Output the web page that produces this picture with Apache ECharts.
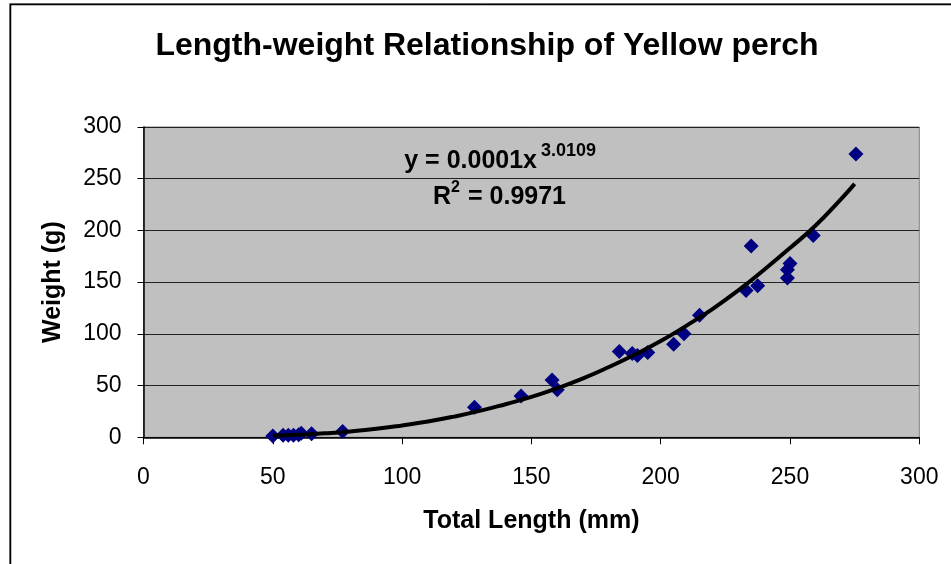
<!DOCTYPE html>
<html>
<head>
<meta charset="utf-8">
<script src="https://cdn.jsdelivr.net/npm/echarts@6/dist/echarts.min.js"></script>
<style>
html,body{margin:0;padding:0;background:#fff;}
#chart{width:951px;height:564px;}
</style>
</head>
<body>
<div id="chart"></div>
<script>
// Observed data: total length (mm) and weight (g)
var lengths = [50, 54, 56, 58, 60, 61, 65, 77, 128, 146, 158, 160, 184, 189, 191, 195, 205, 209, 215, 233, 235, 237.5, 249, 249, 250, 259, 275.5];
var weights = [1.3, 2, 2, 2, 2.5, 4, 3.5, 5.5, 29, 40, 55.5, 46, 83, 81, 79, 82, 90, 100, 118, 142, 185, 146.5, 154, 162, 168, 195, 274];

// Power trendline
var trendLengths = [50, 60, 70, 80, 90, 100, 110, 120, 130, 140, 150, 160, 170, 180, 190, 200, 210, 220, 230, 240, 250, 260, 270, 275];
var trendWeights = [1.4, 2.4, 3.8, 5.7, 8.2, 11.5, 15.3, 20, 25.5, 32, 39, 47.5, 57, 68, 80, 93, 108, 124, 142, 162, 183, 205, 231, 245];

var xTicks = [0, 50, 100, 150, 200, 250, 300];
var yTicks = [0, 50, 100, 150, 200, 250, 300];

var titleText = 'Length-weight Relationship of Yellow perch';
var xName = 'Total Length (mm)';
var yName = 'Weight (g)';
var eqMain = 'y = 0.0001x';
var eqExp = '3.0109';
var r2Main = 'R';
var r2Exp = '2';
var r2Value = '= 0.9971';

var FONT = '"Liberation Sans", Arial, sans-serif';

var scatterData = lengths.map(function (l, i) { return [l, weights[i]]; });
var trendData = trendLengths.map(function (l, i) { return [l, trendWeights[i]]; });

var chart = echarts.init(document.getElementById('chart'), null, {renderer: 'canvas'});
chart.setOption({
  animation: false,
  backgroundColor: '#ffffff',
  textStyle: {fontFamily: FONT},
  grid: {
    left: 143.5, right: 31.7, top: 127, bottom: 126.7,
    show: true, backgroundColor: '#C0C0C0', borderColor: '#808080', borderWidth: 1
  },
  xAxis: {
    type: 'value', min: xTicks[0], max: xTicks[xTicks.length - 1], interval: 50,
    name: xName, nameLocation: 'middle', nameGap: 71,
    nameTextStyle: {fontFamily: FONT, fontWeight: 'bold', fontSize: 25, color: '#000'},
    axisLine: {show: true, onZero: false, lineStyle: {color: '#000', width: 1.5}},
    axisTick: {show: true, inside: false, length: 7, lineStyle: {color: '#000', width: 1}},
    axisLabel: {fontFamily: FONT, fontSize: 23, color: '#000', margin: 29},
    splitLine: {show: false}
  },
  yAxis: {
    type: 'value', min: yTicks[0], max: yTicks[yTicks.length - 1], interval: 50,
    name: yName, nameLocation: 'middle', nameGap: 78, nameRotate: 90,
    nameTextStyle: {fontFamily: FONT, fontWeight: 'bold', fontSize: 25, color: '#000'},
    axisLine: {show: true, onZero: false, lineStyle: {color: '#000', width: 1.5}},
    axisTick: {show: true, inside: false, length: 6, lineStyle: {color: '#000', width: 1}},
    axisLabel: {fontFamily: FONT, fontSize: 23, color: '#000', margin: 22},
    splitLine: {show: true, lineStyle: {color: '#222', width: 1.2}}
  },
  series: [
    {
      type: 'scatter', data: scatterData, symbol: 'diamond', symbolSize: 15,
      itemStyle: {color: '#000080', opacity: 1}, z: 2
    },
    {
      type: 'line', data: trendData, smooth: true, showSymbol: false, symbol: 'none',
      lineStyle: {color: '#000', width: 4}, z: 3
    }
  ],
  graphic: [
    {type: 'rect', z: 100, silent: true,
     shape: {x: 9.5, y: 3.5, width: 1000, height: 700},
     style: {fill: 'none', stroke: '#888', lineWidth: 1}},
    {type: 'rect', z: 100, silent: true,
     shape: {x: 10.5, y: 4.5, width: 1000, height: 700},
     style: {fill: 'none', stroke: '#000', lineWidth: 1.5}},
    {type: 'text', z: 100, style: {x: 487, y: 46, text: titleText, textAlign: 'center', textVerticalAlign: 'middle',
      font: 'bold 32px ' + FONT, fill: '#000'}},
    {type: 'text', z: 100, style: {x: 537, y: 161, text: eqMain, textAlign: 'right', textVerticalAlign: 'middle',
      font: 'bold 25px ' + FONT, fill: '#000'}},
    {type: 'text', z: 100, style: {x: 541, y: 151, text: eqExp, textAlign: 'left', textVerticalAlign: 'middle',
      font: 'bold 18px ' + FONT, fill: '#000'}},
    {type: 'text', z: 100, style: {x: 433, y: 197, text: r2Main, textAlign: 'left', textVerticalAlign: 'middle',
      font: 'bold 25px ' + FONT, fill: '#000'}},
    {type: 'text', z: 100, style: {x: 451, y: 188, text: r2Exp, textAlign: 'left', textVerticalAlign: 'middle',
      font: 'bold 16px ' + FONT, fill: '#000'}},
    {type: 'text', z: 100, style: {x: 566, y: 197, text: r2Value, textAlign: 'right', textVerticalAlign: 'middle',
      font: 'bold 25px ' + FONT, fill: '#000'}}
  ]
});
</script>
</body>
</html>
